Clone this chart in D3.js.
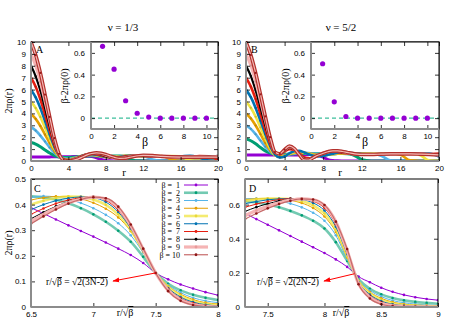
<!DOCTYPE html>
<html><head><meta charset="utf-8">
<script src="https://cdn.jsdelivr.net/npm/d3@7"></script>
<style>
body{margin:0;background:#fff}
svg{display:block}
text{font-family:"Liberation Sans",Arial,sans-serif}
.serif{font-family:"Liberation Serif","Times New Roman",serif}
</style></head>
<body><svg id="c" width="463" height="324"></svg>
<script>
// ---------- DATA ----------
const betas = [1,2,3,4,5,6,7,8,9,10];
const colors = ["#9400d3","#009e73","#56b4e9","#e69f00","#f0e442","#0072b2","#e51e10","#000000","#f5b4b4","#b3302c"];
// panel A/B radial grid r
const rGrid = [0,0.5,1,1.5,2,2.5,3,3.5,4,4.5,5,5.5,6,6.5,7,7.5,8,8.5,9,9.5,10,10.5,11,11.5,12,13,14,15,16,17,18,19,20];
// A: nu = 1/3, 2*pi*rho(r)
const A1 = [.34,.34,.34,.34,.345,.35,.35,.355,.36,.37,.38,.39,.395,.388,.275,.133,.046,.02,.008,.003,0,0,0,0,0,0,0,0,0,0,0,0,0];
const A2 = [1.55,1.42,1.2,.93,.67,.46,.34,.29,.29,.32,.36,.40,.43,.44,.43,.41,.40,.40,.42,.43,.36,.185,.05,.02,.01,.002,0,0,0,0,0,0,0];
const A3 = [2.84,2.56,2.14,1.64,1.13,.68,.37,.22,.19,.25,.33,.41,.46,.47,.44,.40,.37,.37,.39,.42,.44,.44,.43,.42,.41,.135,.015,0,0,0,0,0,0];
const A4 = [3.955,3.54,2.94,2.22,1.5,.86,.4,.16,.1,.2,.32,.44,.51,.51,.46,.39,.34,.33,.36,.40,.43,.44,.43,.42,.41,.418,.415,.133,.012,0,0,0,0];
const A5 = [4.99,4.45,3.7,2.8,1.87,1.03,.43,.13,.05,.17,.3,.45,.54,.55,.49,.40,.33,.31,.33,.38,.42,.44,.44,.43,.41,.40,.38,.423,.39,.063,.007,0,0];
const A6 = [6,5.35,4.45,3.35,2.23,1.2,.47,.11,.03,.14,.28,.45,.56,.58,.52,.42,.33,.29,.30,.35,.40,.44,.45,.44,.42,.38,.37,.37,.385,.43,.287,.036,.004];
const A7 = [7,6.24,5.18,3.9,2.6,1.38,.5,.1,.02,.12,.25,.42,.56,.62,.58,.48,.37,.29,.27,.31,.37,.42,.45,.45,.44,.39,.36,.36,.36,.35,.415,.405,.084];
const A8 = [8,7.12,5.92,4.46,2.96,1.56,.53,.09,.01,.1,.22,.40,.55,.64,.63,.54,.42,.31,.25,.26,.32,.39,.44,.46,.46,.41,.36,.34,.34,.34,.34,.39,.43];
const A9 = [9,8.01,6.66,5.02,3.33,1.74,.56,.08,.01,.08,.19,.37,.53,.64,.66,.60,.48,.35,.26,.23,.27,.35,.42,.46,.47,.43,.37,.34,.33,.33,.33,.33,.37];
const A10 = [10,8.9,7.4,5.58,3.7,1.92,.6,.08,.01,.06,.16,.33,.51,.63,.68,.65,.55,.41,.29,.22,.23,.30,.38,.44,.47,.45,.39,.35,.33,.32,.32,.32,.32];
// B: nu = 5/2
const B1 = [.5,.5,.5,.5,.5,.5,.5,.5,.5,.5,.5,.51,.52,.535,.545,.482,.316,.113,.04,.015,.005,0,0,0,0,0,0,0,0,0,0,0,0];
const B2 = [1.85,1.7,1.45,1.13,.85,.66,.57,.55,.56,.58,.6,.62,.63,.63,.62,.61,.60,.60,.61,.62,.62,.614,.54,.35,.11,.01,0,0,0,0,0,0,0];
const B3 = [2.985,2.7,2.25,1.72,1.2,.78,.55,.48,.5,.56,.62,.66,.68,.66,.62,.58,.56,.57,.6,.62,.63,.63,.63,.63,.63,.632,.435,.045,.01,0,0,0,0];
const B4 = [4,3.58,2.98,2.26,1.53,.9,.5,.38,.45,.58,.68,.72,.7,.63,.56,.51,.5,.53,.58,.62,.64,.65,.64,.63,.62,.61,.61,.636,.53,.051,.006,0,0];
const B5 = [5,4.47,3.72,2.82,1.9,1.07,.5,.32,.4,.6,.74,.78,.72,.6,.5,.45,.46,.52,.6,.66,.68,.67,.65,.62,.6,.58,.6,.62,.62,.636,.50,.042,.006];
const B6 = [6,5.36,4.46,3.38,2.27,1.27,.56,.3,.38,.64,.82,.85,.74,.56,.43,.38,.42,.52,.62,.7,.72,.7,.66,.62,.59,.56,.58,.61,.62,.61,.612,.633,.36];
const B7 = [7,6.25,5.2,3.94,2.65,1.47,.7,.6,.8,1.0,.95,.65,.32,.22,.3,.48,.66,.78,.8,.76,.7,.64,.6,.57,.56,.54,.56,.6,.62,.61,.59,.565,.625];
const B8 = [8,7.14,5.94,4.5,3.03,1.68,.72,.6,.85,1.1,1.0,.6,.2,.15,.3,.5,.68,.8,.83,.8,.74,.67,.6,.56,.54,.53,.56,.6,.63,.62,.58,.53,.5];
const B9 = [9,8.02,6.67,5.05,3.4,1.85,.74,.6,.9,1.18,1.03,.57,.14,.12,.3,.5,.67,.79,.84,.83,.77,.69,.61,.56,.54,.54,.57,.6,.62,.61,.58,.54,.51];
const B10 = [10,8.9,7.4,5.6,3.75,2.0,.75,.6,.95,1.25,1.05,.55,.1,.08,.3,.5,.65,.78,.85,.85,.8,.72,.64,.58,.55,.55,.58,.6,.6,.6,.58,.55,.52];
// insets: beta - 2 pi rho(0)
const insetA = [.66,.45,.16,.045,.01,0,0,0,0,0];
const insetB = [.50,.15,.015,0,0,0,0,0,0,0];
// C: nu=1/3 edge, x = r/sqrt(beta)
const xC = [6.5,6.6,6.7,6.8,6.9,7.0,7.1,7.2,7.3,7.4,7.5,7.6,7.7,7.8,7.9,8.0];
const C1 = [.388,.365,.342,.319,.297,.275,.252,.228,.203,.172,.133,.108,.088,.072,.058,.046];
const C2 = [.432,.428,.419,.405,.386,.362,.333,.298,.255,.196,.133,.091,.065,.048,.036,.027];
const C3 = [.428,.433,.430,.421,.406,.386,.360,.327,.280,.212,.133,.086,.056,.036,.024,.017];
const C4 = [.418,.427,.432,.431,.423,.407,.384,.350,.296,.217,.133,.082,.050,.029,.017,.012];
const C5 = [.400,.415,.426,.431,.430,.420,.399,.362,.302,.219,.133,.078,.044,.023,.012,.008];
const C6 = [.380,.400,.415,.425,.430,.427,.410,.371,.307,.221,.133,.074,.039,.019,.009,.005];
const C7 = [.362,.385,.404,.418,.427,.430,.417,.378,.312,.223,.133,.071,.034,.015,.006,.003];
const C8 = [.345,.370,.393,.411,.424,.430,.421,.384,.316,.225,.133,.068,.030,.012,.004,.002];
const C9 = [.335,.362,.387,.407,.421,.429,.423,.388,.319,.226,.133,.065,.027,.010,.003,.001];
const C10 = [.325,.354,.381,.404,.420,.429,.425,.392,.322,.228,.133,.062,.024,.008,.002,.001];
// D: nu=5/2 edge
const xD = [7.3,7.4,7.5,7.6,7.7,7.8,7.9,8.0,8.1,8.2,8.3,8.4,8.5,8.6,8.7,8.8,8.9,9.0];
const D1 = [.548,.515,.482,.449,.416,.383,.350,.316,.279,.235,.178,.145,.113,.089,.071,.057,.047,.040];
const D2 = [.620,.612,.600,.584,.563,.537,.505,.46,.38,.27,.163,.107,.074,.053,.039,.030,.024,.019];
const D3 = [.634,.636,.632,.622,.606,.584,.552,.505,.42,.28,.159,.097,.061,.038,.025,.017,.012,.009];
const D4 = [.630,.634,.636,.634,.625,.609,.580,.53,.44,.29,.154,.088,.051,.029,.017,.011,.008,.006];
const D5 = [.622,.630,.635,.636,.632,.621,.596,.548,.455,.30,.150,.08,.042,.022,.012,.008,.005,.004];
const D6 = [.605,.618,.628,.634,.636,.630,.610,.565,.47,.31,.146,.073,.035,.016,.008,.005,.003,.002];
const D7 = [.585,.603,.618,.629,.635,.634,.620,.58,.485,.32,.141,.066,.029,.012,.006,.003,.002,.001];
const D8 = [.560,.585,.605,.621,.632,.635,.625,.59,.495,.325,.139,.06,.024,.009,.004,.002,.001,.001];
const D9 = [.535,.565,.590,.611,.626,.634,.628,.595,.50,.33,.137,.056,.02,.007,.003,.001,.001,0];
const D10 = [.515,.548,.578,.603,.622,.633,.630,.598,.50,.34,.133,.05,.016,.005,.002,.001,0,0];
// tick labels
const ticksAx = [0,4,8,12,16,20];
const ticksAy = [0,1,2,3,4,5,6,7,8,9,10];
const ticksInX = [0,2,4,6,8,10];
const ticksInY = [0,0.2,0.4,0.6];
const ticksCx = [6.5,7,7.5,8];
const ticksCy = [0,0.1,0.2,0.3,0.4,0.5];
const ticksDx = [7.5,8,8.5,9];
const ticksDy = [0,0.2,0.4,0.6];

const seriesA=[A1,A2,A3,A4,A5,A6,A7,A8,A9,A10];
const seriesB=[B1,B2,B3,B4,B5,B6,B7,B8,B9,B10];
const seriesC=[C1,C2,C3,C4,C5,C6,C7,C8,C9,C10];
const seriesD=[D1,D2,D3,D4,D5,D6,D7,D8,D9,D10];

// ---------- DRAW ----------
const svg = d3.select("#c");
const defs = svg.append("defs");
defs.append("marker").attr("id","ah").attr("viewBox","0 0 10 10").attr("refX",9).attr("refY",5)
  .attr("markerWidth",7).attr("markerHeight",7).attr("orient","auto-start-reverse")
  .append("path").attr("d","M0,1.5L10,5L0,8.5z").attr("fill","#ff0000");

const wBig = [3,3,2.6,2.6,2.6,2.6,2.6,2.2,3,3.6];
const wEdge = [1,2.6,1,1,2.6,1,1,1,3.2,1.2];
const opEdge = [1,0.55,1,1,0.75,1,1,1,1,1];
const edgeLine = ["#9400d3","#009e73","#56b4e9","#e69f00","#f0e442","#0072b2","#e51e10","#000000","#f5b4b4","#c76a6a"];
const edgeMark = ["#9400d3","#009e73","#56b4e9","#e69f00","#e8d83a","#0072b2","#e51e10","#000000","#e89a9a","#8e1616"];

function axes(g,p,x,y,o){
  const fmt = o.fmt || (d=>d);
  g.append("g").attr("transform",`translate(0,${p.b})`)
    .call(d3.axisBottom(x).tickValues(o.xt).tickSize(-4).tickPadding(o.xpad==null?4:o.xpad).tickFormat(o.xf||fmt));
  g.append("g").attr("transform",`translate(0,${p.t})`)
    .call(d3.axisTop(x).tickValues(o.xt).tickSize(-4).tickFormat(""));
  g.append("g").attr("transform",`translate(${p.l},0)`)
    .call(d3.axisLeft(y).tickValues(o.yt).tickSize(-4).tickPadding(o.ypad==null?5:o.ypad).tickFormat(o.yf||fmt));
  g.append("g").attr("transform",`translate(${p.r},0)`)
    .call(d3.axisRight(y).tickValues(o.yt).tickSize(-4).tickFormat(""));
  g.selectAll(".domain").remove();
  g.selectAll(".tick line").attr("stroke","#000").attr("stroke-width",0.8);
  g.selectAll(".tick text").attr("font-size",8).attr("fill","#000")
    .style("font-family","'Liberation Sans',Arial,sans-serif");
  g.append("rect").attr("x",p.l).attr("y",p.t).attr("width",p.r-p.l).attr("height",p.b-p.t)
    .attr("fill","none").attr("stroke","#000").attr("stroke-width",1);
  g.append("line").attr("x1",p.l).attr("x2",p.l).attr("y1",p.t).attr("y2",p.b).attr("stroke","#8c8c8c").attr("stroke-width",2);
  g.append("line").attr("x1",p.l).attr("x2",p.r).attr("y1",p.b).attr("y2",p.b).attr("stroke","#8c8c8c").attr("stroke-width",2);
}

function clip(p,id){
  defs.append("clipPath").attr("id",id).append("rect")
    .attr("x",p.l).attr("y",p.t-2).attr("width",p.r-p.l).attr("height",p.b-p.t+2);
  return `url(#${id})`;
}

function bigPanel(p,series,xd,yd,name){
  const x=d3.scaleLinear().domain(xd).range([p.l,p.r]);
  const y=d3.scaleLinear().domain(yd).range([p.b,p.t]);
  const g=svg.append("g");
  const cg=g.append("g").attr("clip-path",clip(p,"cl"+name));
  const line=d3.line().x(d=>x(d[0])).y(d=>y(d[1])).curve(d3.curveMonotoneX);
  series.forEach((s,i)=>{
    const pts=rGrid.map((r,k)=>[r,s[k]]);
    cg.append("path").attr("d",line(pts)).attr("fill","none").attr("stroke",colors[i])
      .attr("stroke-width",wBig[i]).attr("stroke-linejoin","round");
    if(i===9){
      cg.append("path").attr("d",line(pts)).attr("fill","none").attr("stroke","#f3b9b6").attr("stroke-width",1.2);
    }
    if(i>=2){
      const mc = i===9? "#9a1a1a" : d3.color(colors[i]).darker(0.5).formatHex();
      cg.selectAll(null).data(pts.filter(d=>d[0]<=4)).enter().append("circle")
        .attr("cx",d=>x(d[0])).attr("cy",d=>y(d[1])).attr("r",1.1).attr("fill",mc);
    }
  });
  return {g,x,y};
}

function edgePanel(p,xs,series,xd,yd,name){
  const x=d3.scaleLinear().domain(xd).range([p.l,p.r]);
  const y=d3.scaleLinear().domain(yd).range([p.b,p.t]);
  const g=svg.append("g");
  const cg=g.append("g").attr("clip-path",clip(p,"cl"+name));
  const line=d3.line().x(d=>x(d[0])).y(d=>y(d[1])).curve(d3.curveMonotoneX);
  series.forEach((s,i)=>{
    const pts=xs.map((v,k)=>[v,s[k]]);
    cg.append("path").attr("d",line(pts)).attr("fill","none").attr("stroke",edgeLine[i])
      .attr("stroke-width",wEdge[i]).attr("stroke-opacity",opEdge[i]);
    cg.selectAll(null).data(pts).enter().append("circle")
      .attr("cx",d=>x(d[0])).attr("cy",d=>y(d[1])).attr("r",1.3).attr("fill",edgeMark[i]);
  });
  return {g,x,y};
}

function inset(p,vals){
  const x=d3.scaleLinear().domain([0,11]).range([p.l,p.r]);
  const y=d3.scaleLinear().domain([-0.1,0.7]).range([p.b,p.t]);
  const g=svg.append("g");
  g.append("rect").attr("x",p.l).attr("y",p.t).attr("width",p.r-p.l).attr("height",p.b-p.t).attr("fill","#fff");
  g.append("line").attr("x1",x(0)).attr("x2",x(11)).attr("y1",y(0)).attr("y2",y(0))
    .attr("stroke","#3cbf9c").attr("stroke-width",1.4).attr("stroke-dasharray","4,3");
  g.selectAll(null).data(vals).enter().append("circle")
    .attr("cx",(d,i)=>x(betas[i])).attr("cy",d=>y(d)).attr("r",2.6).attr("fill","#9400d3");
  axes(g,p,x,y,{xt:ticksInX,yt:ticksInY,xpad:4,ypad:6});
  return {g,x,y};
}

// layout
const pA={l:31,r:218,t:42,b:161};
const pB={l:246,r:439,t:42,b:161};
const pC={l:31,r:218,t:179,b:307};
const pD={l:245,r:438,t:179,b:307};
const pIA={l:91,r:218,t:42,b:129};
const pIB={l:311,r:439,t:42,b:129};

const a=bigPanel(pA,seriesA,[0,20],[0,10],"A");
axes(a.g,pA,a.x,a.y,{xt:ticksAx,yt:ticksAy});
const b=bigPanel(pB,seriesB,[0,20],[0,10],"B");
axes(b.g,pB,b.x,b.y,{xt:ticksAx,yt:ticksAy});
inset(pIA,insetA);
inset(pIB,insetB);
const c=edgePanel(pC,xC,seriesC,[6.5,8],[0,0.5],"C");
axes(c.g,pC,c.x,c.y,{xt:ticksCx,yt:ticksCy,fmt:d3.format("~g")});
const dd=edgePanel(pD,xD,seriesD,[7.3,9],[0,0.75],"D");
axes(dd.g,pD,dd.x,dd.y,{xt:ticksDx,yt:ticksDy,fmt:d3.format("~g")});

// texts
function T(x,y,s,size,opts={}){
  const t=svg.append("text").attr("x",x).attr("y",y).attr("font-size",size).attr("class","serif")
    .attr("text-anchor",opts.anchor||"middle").text(s);
  if(opts.rot) t.attr("transform",`rotate(-90,${x},${y})`);
  if(opts.weight) t.attr("font-weight",opts.weight);
  return t;
}
T(123,31,"ν = 1/3",11);
T(341,31,"ν = 5/2",11);
T(36,53,"A",10,{anchor:"start"});
T(251,53,"B",10,{anchor:"start"});
T(34,192,"C",10,{anchor:"start"});
T(249,192,"D",10,{anchor:"start"});
T(12,101,"2πρ(r)",10,{rot:true});
T(12,243,"2πρ(r)",10,{rot:true});
T(68,86,"β-2πρ(0)",10,{rot:true});
T(289,86,"β-2πρ(0)",10,{rot:true});
T(145,146,"β",12);
T(365,146,"β",12);
T(124,176,"r",11);
T(340,176,"r",11);

function rsb(x,y){
  const t=svg.append("text").attr("x",x).attr("y",y).attr("font-size",10).attr("class","serif").attr("text-anchor","middle");
  t.append("tspan").text("r/√");
  t.append("tspan").style("text-decoration","overline").text("β");
  return t;
}
rsb(125,316);
rsb(341,316);

function ann(x,y,inner){
  const t=svg.append("text").attr("x",x).attr("y",y).attr("font-size",9.5).attr("class","serif").attr("text-anchor","start");
  t.append("tspan").text("r/√");
  t.append("tspan").style("text-decoration","overline").text("β");
  t.append("tspan").text(" = √");
  t.append("tspan").style("text-decoration","overline").text(inner);
}
ann(46,285,"2(3N-2)");
ann(257,285,"2(2N-2)");

// arrows
svg.append("line").attr("x1",c.x(7.5)).attr("y1",c.y(0.133)).attr("x2",113).attr("y2",281)
  .attr("stroke","#ff0000").attr("stroke-width",1).attr("marker-end","url(#ah)");
svg.append("line").attr("x1",dd.x(8.265)).attr("y1",dd.y(0.195)).attr("x2",324).attr("y2",281)
  .attr("stroke","#ff0000").attr("stroke-width",1).attr("marker-end","url(#ah)");

// legend
const lg=svg.append("g");
betas.forEach((bv,i)=>{
  const yy=185+i*7.75;
  lg.append("text").attr("x",180).attr("y",yy+2.8).attr("font-size",8).attr("class","serif")
    .attr("text-anchor","end").text(bv<10?`β =  ${bv}`:`β = ${bv}`).style("white-space","pre");
  lg.append("line").attr("x1",184).attr("x2",208).attr("y1",yy).attr("y2",yy)
    .attr("stroke",edgeLine[i]).attr("stroke-width",wEdge[i]).attr("stroke-opacity",opEdge[i]);
  lg.append("circle").attr("cx",196).attr("cy",yy).attr("r",1.4).attr("fill",edgeMark[i]);
});
</script></body></html>
